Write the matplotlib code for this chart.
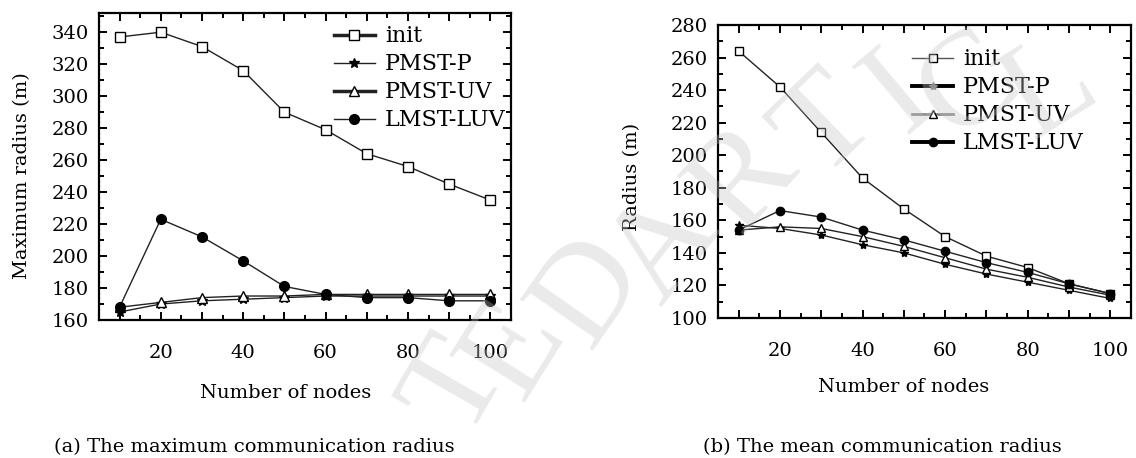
import matplotlib
matplotlib.use("Agg")
import matplotlib.pyplot as plt
from matplotlib.ticker import MultipleLocator, FixedLocator, FuncFormatter

plt.rcParams['font.family'] = ['DejaVu Serif']

# Datos
nodos = [10, 20, 30, 40, 50, 60, 70, 80, 90, 100]
series = ["init", "PMST-P", "PMST-UV", "LMST-LUV"]

max_init = [337, 340, 331, 316, 290, 279, 264, 256, 245, 235]
max_pmst_p = [165, 170, 172, 173, 174, 175, 175, 175, 175, 175]
max_pmst_uv = [168, 171, 174, 175, 175, 176, 176, 176, 176, 176]
max_lmst_luv = [168, 223, 212, 197, 181, 176, 174, 174, 172, 172]

mean_init = [264, 242, 214, 186, 167, 150, 138, 131, 121, 115]
mean_pmst_p = [157, 155, 151, 145, 140, 133, 127, 122, 117, 112]
mean_pmst_uv = [154, 156, 155, 150, 144, 137, 130, 125, 119, 114]
mean_lmst_luv = [154, 166, 162, 154, 148, 141, 134, 128, 121, 115]

xtick_labels = [20, 40, 60, 80, 100]

marcadores = ['s', '*', '^', 'o']
relleno = ['white', 'black', 'white', 'black']

fig = plt.figure(figsize=(11.36, 4.58), dpi=100)
axA = fig.add_axes([0.0871, 0.3013, 0.3627, 0.6703])
axB = fig.add_axes([0.632, 0.3057, 0.3636, 0.6397])


def dibujar(ax, datos, ms, ylim):
    for nombre, y, m, fc in zip(series, datos, marcadores, relleno):
        ax.plot(nodos, y, marker=m, color='#222222', lw=1.0, ms=ms,
                mfc=fc, mec='black', mew=1.0, label=nombre)
    ax.set_xlim(5, 105)
    ax.set_ylim(*ylim)
    ax.xaxis.set_major_locator(FixedLocator(nodos))
    ax.xaxis.set_major_formatter(FuncFormatter(
        lambda v, p: str(int(v)) if int(round(v)) in xtick_labels else ''))
    ax.xaxis.set_minor_locator(MultipleLocator(5))
    ax.yaxis.set_major_locator(MultipleLocator(20))
    ax.yaxis.set_minor_locator(MultipleLocator(10))
    ax.tick_params(which='both', direction='in', top=True, right=True,
                   width=1.4, labelsize=14)
    ax.tick_params(which='major', length=6)
    ax.tick_params(which='minor', length=3.5)
    ax.tick_params(axis='x', pad=17)
    ax.tick_params(axis='y', pad=7)
    for s in ax.spines.values():
        s.set_linewidth(1.6)
    ax.set_xlabel("Number of nodes", fontsize=14)


dibujar(axA, [max_init, max_pmst_p, max_pmst_uv, max_lmst_luv], 7, (160, 352))
dibujar(axB, [mean_init, mean_pmst_p, mean_pmst_uv, mean_lmst_luv], 6, (100, 280))

axA.set_ylabel("Maximum radius (m)", fontsize=14)
axB.set_ylabel("Radius (m)", fontsize=14)
axA.xaxis.set_label_coords(0.454, -0.21)
axB.xaxis.set_label_coords(0.45, -0.205)
axA.yaxis.set_label_coords(-0.165, 0.47)
axB.yaxis.set_label_coords(-0.185, 0.48)

# Leyendas
legA = axA.legend(loc='upper left', bbox_to_anchor=(0.57, 0.96), frameon=False,
                  fontsize=16, handlelength=1.85, handletextpad=0.45,
                  labelspacing=0.27, borderpad=0, borderaxespad=0)
for ln, lw in zip(legA.get_lines(), [2.5, 1.0, 2.5, 1.0]):
    ln.set_linewidth(lw)

legB = axB.legend(loc='upper left', bbox_to_anchor=(0.47, 0.92), frameon=False,
                  fontsize=16, handlelength=1.85, handletextpad=0.45,
                  labelspacing=0.27, borderpad=0, borderaxespad=0)
for ln, lw, c in zip(legB.get_lines(), [1.0, 2.8, 2.0, 2.8],
                     ['#555555', 'black', '#888888', 'black']):
    ln.set_linewidth(lw)
    ln.set_color(c)
legB.get_lines()[1].set_markerfacecolor('#777777')
legB.get_lines()[1].set_markeredgecolor('#777777')

# Pies de figura
fig.text(54 / 1136, 1 - 447 / 458, "(a) The maximum communication radius",
         fontsize=14, va='center', ha='left')
fig.text(703 / 1136, 1 - 447 / 458, "(b) The mean communication radius",
         fontsize=14, va='center', ha='left')

# Marca de agua
marca = [("T", 458, 388, 60), ("E", 515, 350, 58), ("D", 590, 292, 55),
         ("A", 665, 248, 52), ("R", 745, 180, 48), ("T", 828, 128, 44),
         ("I", 900, 95, 40), ("C", 970, 88, 36), ("L", 1050, 90, 32)]
for ch, px, py, rot in marca:
    fig.text(px / 1136, 1 - py / 458, ch, fontsize=98, family='Liberation Serif',
             color='#c4c4c4', alpha=0.35, rotation=rot, ha='center', va='center',
             zorder=10)

fig.savefig("out.png", dpi=100)
